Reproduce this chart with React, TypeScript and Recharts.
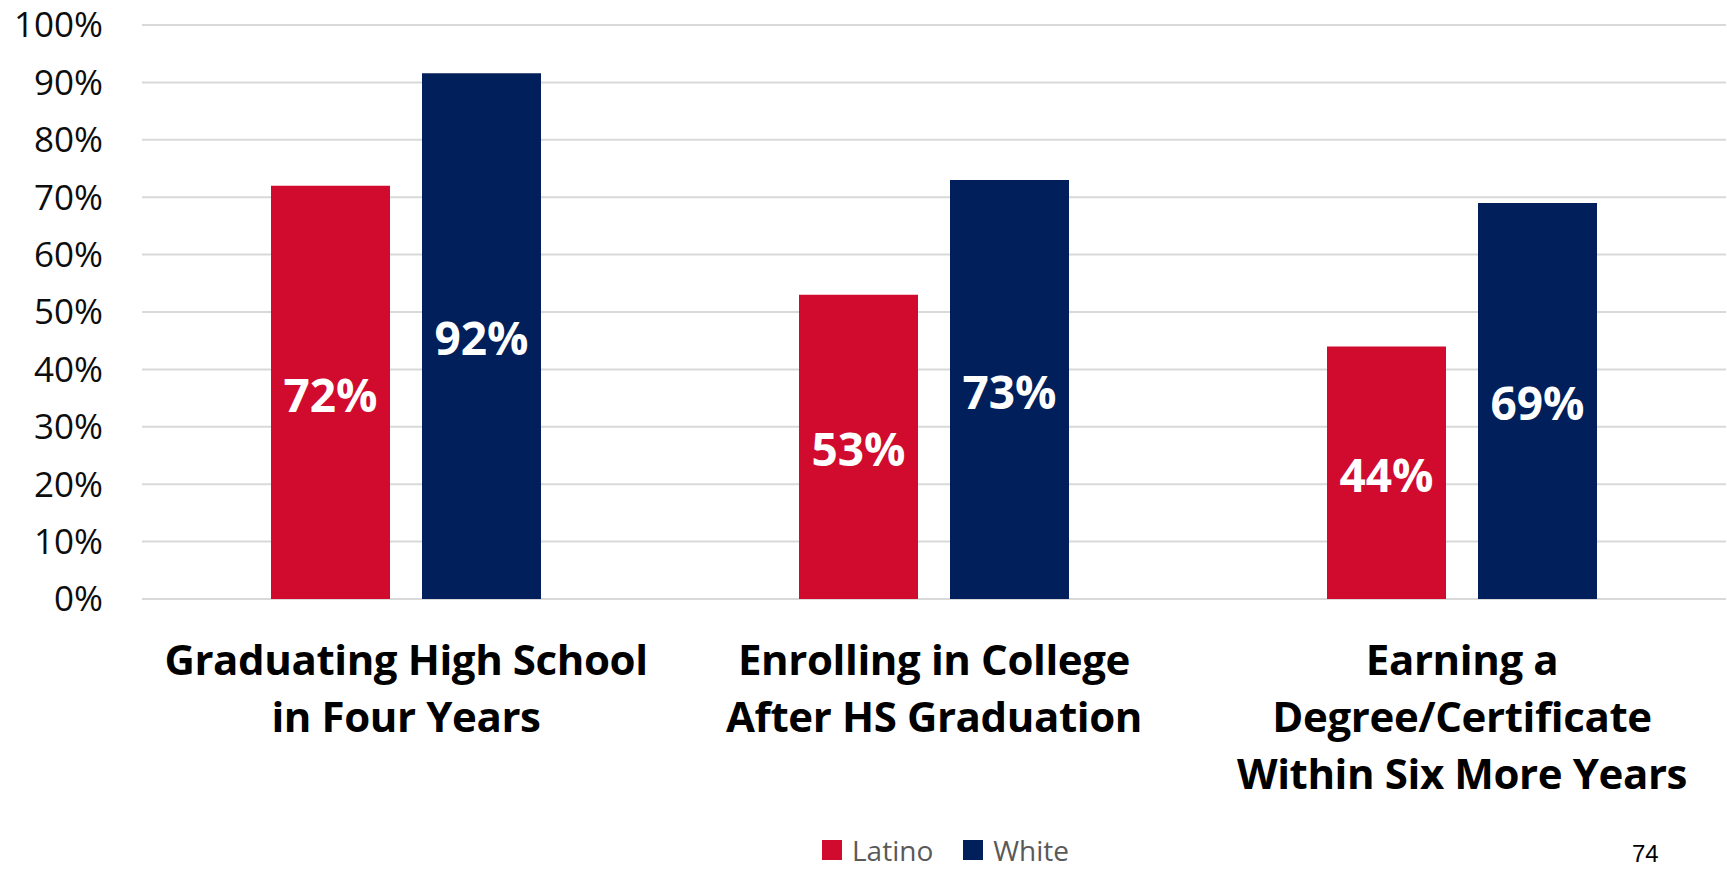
// Bar chart: Latino vs White education milestones (percent).
import React from 'react';
import { BarChart, Bar, XAxis, YAxis, CartesianGrid, Legend, LabelList } from 'recharts';

const categories = [
  ['Graduating High School', 'in Four Years'],
  ['Enrolling in College', 'After HS Graduation'],
  ['Earning a', 'Degree/Certificate', 'Within Six More Years'],
];
const latino = [72, 53, 44];
const white = [91.6, 73, 69];
const yTicks = [0, 10, 20, 30, 40, 50, 60, 70, 80, 90, 100];

const RED = '#d00b2e';
const NAVY = '#001f5b';
const FONT = '"Open Sans", "Noto Sans", sans-serif';

const data = categories.map((lines, i) => ({
  name: lines.join(' '),
  latino: latino[i],
  white: white[i],
}));

const CategoryTick = (props: any) => {
  const { x, y, index } = props;
  const lines = categories[index] || [];
  return (
    <text
      x={x}
      y={y}
      textAnchor="middle"
      fill="#000"
      fontFamily={FONT}
      fontWeight={700}
      fontSize={42}
      letterSpacing={-0.4}
    >
      {lines.map((line, i) => (
        <tspan key={i} x={x} dy={i === 0 ? 68 : 57}>
          {line}
        </tspan>
      ))}
    </text>
  );
};

const LegendBox = () => (
  <div style={{ position: 'relative', height: 30, width: '100%' }}>
    <div
      style={{
        position: 'absolute',
        left: 822,
        top: 0,
        height: 30,
        display: 'flex',
        alignItems: 'center',
        fontFamily: FONT,
        fontSize: 28,
        lineHeight: '30px',
        color: '#595959',
        whiteSpace: 'nowrap',
      }}
    >
      <span style={{ width: 20, height: 20, background: RED, marginRight: 10 }} />
      <span style={{ marginRight: 30 }}>Latino</span>
      <span style={{ width: 20, height: 20, background: NAVY, marginRight: 10 }} />
      <span>White</span>
    </div>
  </div>
);

const pct = (v: any) => `${Math.round(Number(v))}%`;

export default function App() {
  return (
    <div style={{ position: 'absolute', left: 0, top: 0, width: 1727, height: 870, background: '#fff' }}>
      <BarChart
        width={1727}
        height={870}
        data={data}
        margin={{ top: 25, right: 1, left: 0, bottom: 5 }}
        barGap={32}
      >
        <CartesianGrid vertical={false} stroke="#d9d9d9" strokeWidth={2} />
        <XAxis
          dataKey="name"
          axisLine={false}
          tickLine={false}
          height={236}
          interval={0}
          tick={<CategoryTick />}
        />
        <YAxis
          domain={[0, 100]}
          ticks={yTicks}
          width={142}
          axisLine={false}
          tickLine={false}
          tickMargin={33}
          tickFormatter={(v) => `${v}%`}
          tick={{ fontFamily: FONT, fontSize: 35, fill: '#0d0d0d' }}
        />
        <Legend verticalAlign="bottom" content={<LegendBox />} />
        <Bar dataKey="latino" name="Latino" fill={RED} barSize={119} isAnimationActive={false}>
          <LabelList
            dataKey="latino"
            position="center"
            formatter={pct}
            fill="#fff"
            fontFamily={FONT}
            fontWeight={700}
            fontSize={46}
            dy={3}
          />
        </Bar>
        <Bar dataKey="white" name="White" fill={NAVY} barSize={119} isAnimationActive={false}>
          <LabelList
            dataKey="white"
            position="center"
            formatter={pct}
            fill="#fff"
            fontFamily={FONT}
            fontWeight={700}
            fontSize={46}
            dy={3}
          />
        </Bar>
      </BarChart>
      <div
        style={{
          position: 'absolute',
          left: 1632,
          top: 840,
          fontFamily: '"Liberation Sans", Arial, sans-serif',
          fontSize: 24,
          color: '#000',
        }}
      >
        74
      </div>
    </div>
  );
}
